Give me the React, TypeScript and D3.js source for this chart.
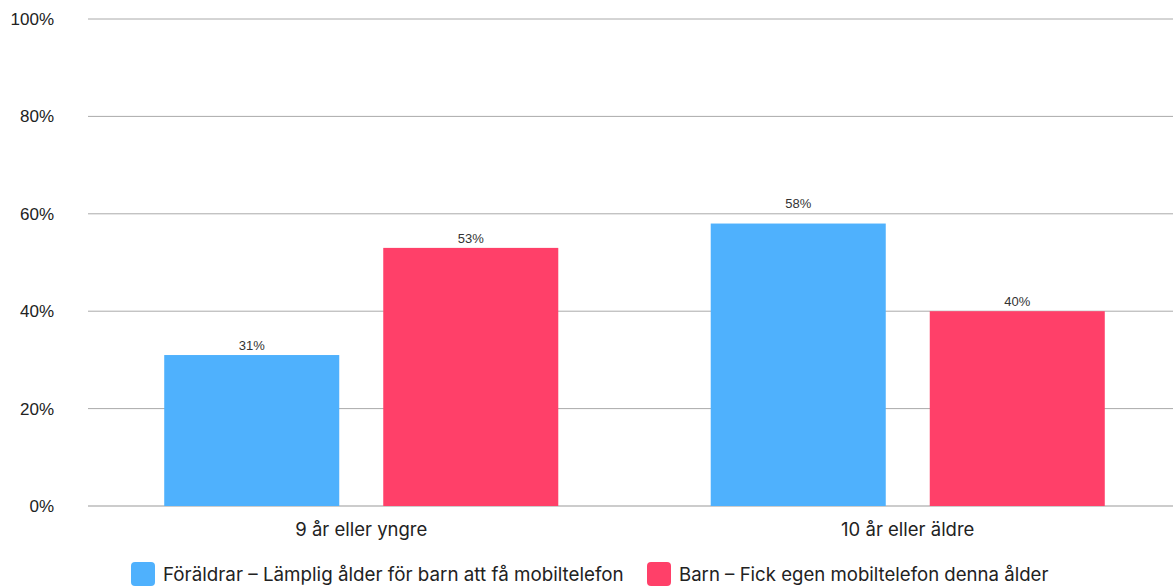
import React from "react";
import * as d3 from "d3";

const categories = ["9 år eller yngre", "10 år eller äldre"];
const seriesNames = [
  "Föräldrar – Lämplig ålder för barn att få mobiltelefon",
  "Barn – Fick egen mobiltelefon denna ålder",
];
const parentsValues = [31, 58];
const childrenValues = [53, 40];
const yTicks = [0, 20, 40, 60, 80, 100];
const colors = ["#4FB1FD", "#FF4069"];

const W = 1173;
const H = 587;
const left = 88;
const rightExt = 1181;
const top = 19;
const bottom = 506;

export default function App() {
  const x = d3.scaleBand<string>().domain(categories).range([left, rightExt]).paddingInner(0).paddingOuter(0);
  const y = d3.scaleLinear().domain([0, 100]).range([bottom, top]);
  const inner = d3.scaleBand<string>().domain(["0", "1"]).range([0, x.bandwidth()]).paddingInner(0.2009).paddingOuter(0.348);
  const series = [parentsValues, childrenValues];
  const fontA = "'Liberation Sans', Arial, sans-serif";
  const fontB = "Inter, 'Noto Sans', sans-serif";

  const labelY = (v: number) => {
    let base = y(v) - 5;
    const hit = yTicks.find((t) => y(t) > base - 11 && y(t) < base + 1);
    if (hit !== undefined && hit !== 0) base = y(hit) - 6;
    return base;
  };

  return (
    <svg width={W} height={H} style={{ position: "absolute", left: 0, top: 0, display: "block" }}>
      <rect width={W} height={H} fill="#fff" />
      {yTicks.map((t) => (
        <g key={t}>
          <line x1={left} x2={W} y1={y(t)} y2={y(t)} stroke={t === 0 ? "#999" : "#aaa"} strokeWidth={1} />
          <text x={54} y={y(t) + 6} textAnchor="end" fontFamily={fontA} fontSize={17} fill="#222">
            {t}%
          </text>
        </g>
      ))}
      {categories.map((c, ci) => (
        <g key={c}>
          {series.map((vals, si) => {
            const bx = (x(c) as number) + (inner(String(si)) as number);
            const bw = inner.bandwidth();
            return (
              <g key={si}>
                <rect x={bx} y={y(vals[ci])} width={bw} height={bottom - y(vals[ci])} fill={colors[si]} />
                <text x={bx + bw / 2} y={labelY(vals[ci])} textAnchor="middle" fontFamily={fontA} fontSize={13} fill="#333">
                  {vals[ci]}%
                </text>
              </g>
            );
          })}
          <text x={(x(c) as number) + x.bandwidth() / 2} y={536} textAnchor="middle" fontFamily={fontB} fontSize={18.5} fill="#222">
            {c}
          </text>
        </g>
      ))}
      {seriesNames.map((n, i) => {
        const cx = i === 0 ? 131 : 647;
        return (
          <g key={n}>
            <rect x={cx} y={562} width={24} height={24} rx={4} fill={colors[i]} />
            <text x={cx + 32} y={581} fontFamily={fontB} fontSize={i === 0 ? 18.8 : 18.6} fill="#222">
              {n}
            </text>
          </g>
        );
      })}
    </svg>
  );
}
